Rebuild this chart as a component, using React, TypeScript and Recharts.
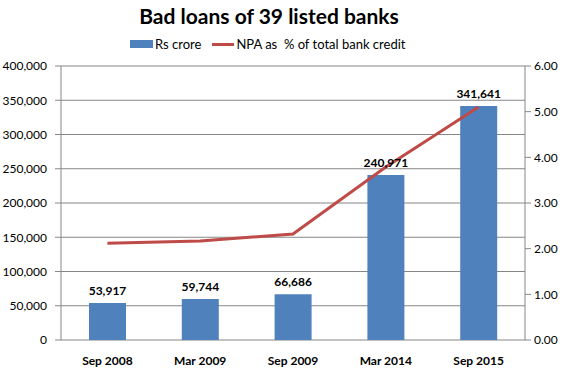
import React from 'react';
import { ComposedChart, Bar, Line, XAxis, YAxis, CartesianGrid, LabelList } from 'recharts';

const categories = ['Sep 2008', 'Mar 2009', 'Sep 2009', 'Mar 2014', 'Sep 2015'];
const badLoans = [53917, 59744, 66686, 240971, 341641];
const npaPct = [2.12, 2.17, 2.32, 3.79, 5.1];
const leftTicks = [0, 50000, 100000, 150000, 200000, 250000, 300000, 350000, 400000];
const rightTicks = [0, 1, 2, 3, 4, 5, 6];
const boundaryTicks = [0, 1, 2, 3, 4, 5];

const data = categories.map((name, i) => ({ name, rs: badLoans[i], npa: npaPct[i] }));

const AXIS = '#868686';
const FONT = 'Lato, "Open Sans", sans-serif';

export default function App() {
  return (
    <div style={{ position: 'absolute', left: 0, top: 0, width: 567, height: 374, background: '#fff', fontFamily: FONT }}>
      <div style={{ position: 'absolute', left: 0, top: 2, width: 538, textAlign: 'center', fontSize: 21, fontWeight: 700, color: '#000', lineHeight: '28px' }}>
        Bad loans of 39 listed banks
      </div>
      <div style={{ position: 'absolute', left: 130, top: 35, height: 18, display: 'flex', alignItems: 'center', fontSize: 13, color: '#000', whiteSpace: 'pre' }}>
        <span style={{ display: 'inline-block', width: 23, height: 8, background: '#4F81BD', marginRight: 2 }} />
        <span>Rs crore</span>
        <span style={{ display: 'inline-block', width: 22, height: 3, background: '#BE4B48', marginLeft: 11, marginRight: 2 }} />
        <span>NPA as  % of total bank credit</span>
      </div>
      <ComposedChart width={567} height={374} data={data} margin={{ top: 66, right: 0, bottom: 0, left: 0 }}>
        <CartesianGrid yAxisId="left" xAxisId="cat" vertical={false} stroke={AXIS} />
        <XAxis
          xAxisId="edge"
          type="number"
          domain={[0, 5]}
          allowDataOverflow
          ticks={boundaryTicks}
          tick={false}
          tickSize={6}
          height={0}
          stroke={AXIS}
        />
        <XAxis
          xAxisId="cat"
          dataKey="name"
          interval={0}
          axisLine={false}
          tickLine={false}
          tickSize={0}
          tickMargin={16}
          height={34}
          tick={{ fill: '#000', fontSize: 12, fontWeight: 700, fontFamily: FONT }}
        />
        <YAxis
          yAxisId="left"
          width={61}
          domain={[0, 400000]}
          ticks={leftTicks}
          interval={0}
          stroke={AXIS}
          tickSize={6}
          tickMargin={8}
          tickFormatter={(v: number) => v.toLocaleString('en-US')}
          tick={{ fill: '#000', fontSize: 12, fontFamily: FONT }}
        />
        <YAxis
          yAxisId="right"
          orientation="right"
          width={42}
          domain={[0, 6]}
          ticks={rightTicks}
          interval={0}
          stroke={AXIS}
          tickSize={6}
          tickMargin={3}
          tickFormatter={(v: number) => v.toFixed(2)}
          tick={{ fill: '#000', fontSize: 12, fontFamily: FONT, textAnchor: 'start' }}
        />
        <Bar xAxisId="cat" yAxisId="left" dataKey="rs" fill="#4F81BD" barSize={37} isAnimationActive={false}>
          <LabelList
            dataKey="rs"
            position="top"
            offset={8}
            formatter={(v: number) => v.toLocaleString('en-US')}
            style={{ fill: '#000', fontSize: 12, fontWeight: 700, fontFamily: FONT }}
          />
        </Bar>
        <Line
          xAxisId="cat"
          yAxisId="right"
          type="linear"
          dataKey="npa"
          stroke="#BE4B48"
          strokeWidth={3}
          dot={false}
          activeDot={false}
          isAnimationActive={false}
        />
      </ComposedChart>
    </div>
  );
}
